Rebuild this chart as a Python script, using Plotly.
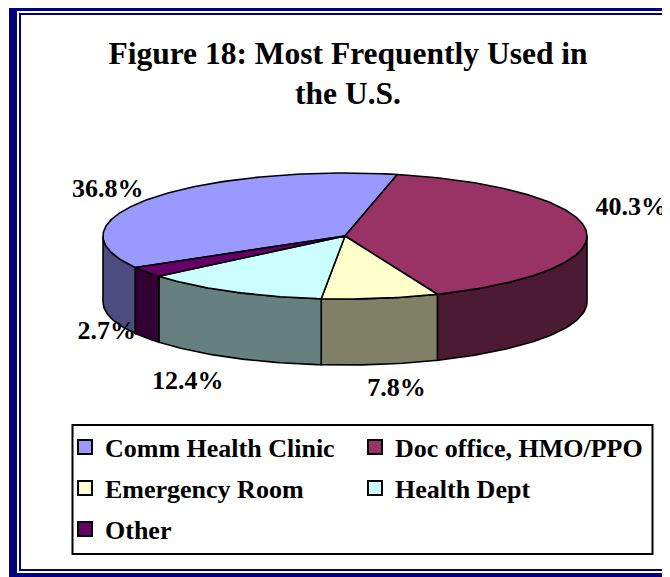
import math
import plotly.graph_objects as go

# ---------------- data ----------------
categories = ["Comm Health Clinic", "Doc office, HMO/PPO", "Emergency Room", "Health Dept", "Other"]
values = [36.8, 40.3, 7.8, 12.4, 2.7]
title_lines = ["Figure 18: Most Frequently Used in", "the U.S."]

# ---------------- style ----------------
top_colors = ["#9999FF", "#993366", "#FFFFCC", "#CCFFFF", "#660066"]
side_colors = ["#4C4C80", "#4C1A33", "#808066", "#668080", "#330033"]
FONT = "Liberation Serif"
W, H = 670, 577
OFF = 8                   # page body margin: figure is drawn at (8, 8) in the window
CX, CY = 345.0, 236.0     # pie centre (window pixels)
RX, RY = 242.0, 63.0      # top-ellipse radii
DEPTH = 66.0              # thickness of the pie
START = 240.0             # first slice start angle, clockwise from 12 o'clock
LABEL_K = 1.2
LABEL_NUDGE = [(-3, -1), (-3, -21), (9, 13), (-21, 14), (0, -13)]
legend_rows = [[0, 1], [2, 3], [4]]
legend_row_y = [447, 488, 529]
legend_x = 65
legend_entry = 245


def paper_x(px):
    return (px - OFF) / W


def paper_y(py):
    return 1 - (py - OFF) / H


def pt(theta_deg, dy=0.0):
    t = math.radians(theta_deg)
    return CX + RX * math.sin(t), CY - RY * math.cos(t) + dy


def arc(a0, a1, dy=0.0, step=1.0):
    n = max(2, int(abs(a1 - a0) / step) + 1)
    xs, ys = [], []
    for i in range(n + 1):
        a = a0 + (a1 - a0) * i / n
        x, y = pt(a, dy)
        xs.append(x)
        ys.append(y)
    return xs, ys


fig = go.Figure()
total = sum(values)
bounds = []
acc = START
for v in values:
    span = 360.0 * v / total
    bounds.append((acc, acc + span))
    acc += span

# side faces (front half only)
for i, (a0, a1) in enumerate(bounds):
    for k in (-360.0, 0.0, 360.0, 720.0):
        lo, hi = max(a0, 90 + k), min(a1, 270 + k)
        if hi > lo:
            xt, yt = arc(lo, hi)
            xb, yb = arc(hi, lo, DEPTH)
            fig.add_trace(go.Scatter(
                x=xt + xb + [xt[0]], y=yt + yb + [yt[0]], mode="lines", fill="toself",
                fillcolor=side_colors[i], line=dict(color="black", width=1.6),
                showlegend=False, hoverinfo="skip"))

# top faces
for i, (a0, a1) in enumerate(bounds):
    xs, ys = arc(a0, a1)
    fig.add_trace(go.Scatter(
        x=[CX] + xs + [CX], y=[CY] + ys + [CY], mode="lines", fill="toself",
        fillcolor=top_colors[i], line=dict(color="black", width=1.6),
        showlegend=False, hoverinfo="text", text=f"{categories[i]}: {values[i]}%"))

# percentage labels
lx, ly, lt = [], [], []
for i, (a0, a1) in enumerate(bounds):
    mid = (a0 + a1) / 2
    t = math.radians(mid)
    x = CX + RX * LABEL_K * math.sin(t)
    y = CY - RY * LABEL_K * math.cos(t) + (DEPTH if math.cos(t) < 0 else 0)
    lx.append(x + LABEL_NUDGE[i][0])
    ly.append(y + LABEL_NUDGE[i][1])
    lt.append(f"<b>{values[i]:.1f}%</b>")
fig.add_trace(go.Scatter(x=lx, y=ly, text=lt, mode="text",
                         textfont=dict(family=FONT, size=26, color="black"),
                         showlegend=False, hoverinfo="skip"))

# legend entries
legend_names = ["legend", "legend2", "legend3"]
for r, row in enumerate(legend_rows):
    for i in row:
        fig.add_trace(go.Scatter(
            x=[None], y=[None], mode="markers", name=f"<b>{categories[i]}</b>",
            legend=legend_names[r],
            marker=dict(symbol="square", size=14, color=top_colors[i],
                        line=dict(color="black", width=2))))

legend_common = dict(orientation="h", font=dict(family=FONT, size=26, color="black"),
                     bgcolor="rgba(0,0,0,0)", borderwidth=0, xanchor="left", yanchor="middle",
                     entrywidth=legend_entry, entrywidthmode="pixels", itemclick=False,
                     itemdoubleclick=False, itemsizing="trace")
layout_legends = {}
for r, name in enumerate(legend_names):
    layout_legends[name] = dict(legend_common, x=paper_x(legend_x), y=paper_y(legend_row_y[r]))

shapes = [
    # outer navy frame (thick + thin)
    dict(type="rect", xref="x", yref="y", x0=13, y0=7, x1=672, y1=577,
         line=dict(color="#000080", width=8), layer="below"),
    dict(type="rect", xref="x", yref="y", x0=20, y0=14, x1=666, y1=570,
         line=dict(color="#000080", width=2), layer="below"),
    # legend box
    dict(type="rect", xref="x", yref="y", x0=72.5, y0=425, x1=652.5, y1=554,
         line=dict(color="black", width=2), layer="below"),
]

fig.update_layout(
    width=W, height=H, margin=dict(l=0, r=0, t=0, b=0),
    paper_bgcolor="white", plot_bgcolor="white",
    xaxis=dict(range=[OFF, OFF + W], domain=[0, 1], visible=False, fixedrange=True),
    yaxis=dict(range=[OFF + H, OFF], domain=[0, 1], visible=False, fixedrange=True),
    title=dict(text="<br>".join(f"<b>{s}</b>" for s in title_lines),
               x=paper_x(348), y=paper_y(63.5), xanchor="center", yanchor="middle",
               font=dict(family=FONT, size=31.5, color="black")),
    font=dict(family=FONT, color="black"),
    shapes=shapes,
    **layout_legends,
)

fig.write_html("out.html")
